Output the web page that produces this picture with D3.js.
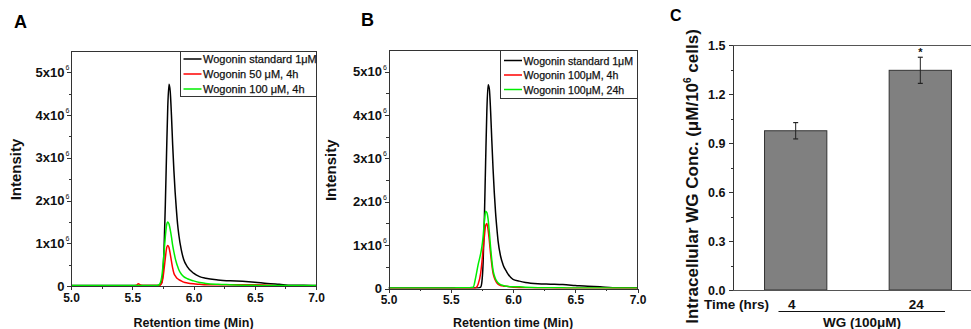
<!DOCTYPE html>
<html>
<head>
<meta charset="utf-8">
<script src="https://cdn.jsdelivr.net/npm/d3@7/dist/d3.min.js"></script>
<style>
  html, body { margin: 0; padding: 0; background: #fff; }
  svg { display: block; font-family: "Liberation Sans", Arial, sans-serif; }
  .axis path, .axis line { stroke: #333; stroke-width: 1; shape-rendering: crispEdges; }
  .axis text { font-family: "Liberation Sans", Arial, sans-serif; font-weight: bold; fill: #111; }
</style>
</head>
<body>
<svg id="chart" width="971" height="329"></svg>
<script>
// ---------------- DATA ----------------
// Retention time grid (min), shared by all chromatogram traces
const retentionTime = [5.0, 5.5, 5.53, 5.55, 5.57, 5.6, 5.65, 5.68, 5.70, 5.72, 5.74, 5.75, 5.76, 5.77, 5.78, 5.79, 5.80, 5.81, 5.82, 5.83, 5.84, 5.85, 5.86, 5.87, 5.88, 5.90, 5.92, 5.95, 6.0, 6.05, 6.1, 6.2, 6.3, 6.4, 6.5, 6.6, 6.7, 6.8, 6.9, 7.0];

// Panel A intensities (x10^6)
const aStandard1uM = [0.01,0.01,0.01,0.01,0.01,0.01,0.01,0.01,0.01,0.02,0.08,0.3,0.9,1.9,3.1,4.2,4.72,4.55,4.0,3.3,2.7,2.2,1.8,1.45,1.2,0.85,0.62,0.45,0.3,0.22,0.18,0.14,0.12,0.11,0.09,0.06,0.04,0.02,0.02,0.01];
const aWogonin50_4h = [0,0.005,0.01,0.05,0.02,0.01,0.01,0.01,0.01,0.01,0.06,0.18,0.4,0.65,0.88,0.95,0.9,0.75,0.58,0.42,0.3,0.24,0.2,0.17,0.15,0.12,0.09,0.07,0.05,0.04,0.03,0.03,0.03,0.03,0.03,0.02,0.005,0,0,0];
const aWogonin100_4h = [0.01,0.01,0.01,0.01,0.01,0.01,0.01,0.01,0.01,0.03,0.2,0.45,0.8,1.15,1.42,1.5,1.45,1.32,1.15,0.95,0.8,0.66,0.55,0.46,0.38,0.28,0.22,0.17,0.12,0.08,0.06,0.04,0.03,0.02,0.015,0.01,0.01,0.01,0.01,0.01];

// Panel B intensities (x10^6)
const bStandard1uM = [0.01,0.01,0.01,0.01,0.01,0.01,0.01,0.01,0.01,0.01,0.03,0.15,0.6,1.6,2.9,4.1,4.7,4.6,4.1,3.4,2.75,2.2,1.75,1.4,1.1,0.75,0.55,0.38,0.21,0.17,0.14,0.11,0.1,0.09,0.07,0.05,0.04,0.02,0.02,0.02];
const bWogonin100_4h = [0,0,0,0,0,0,0,0,0.01,0.1,0.35,0.6,0.9,1.2,1.45,1.5,1.35,1.1,0.8,0.55,0.35,0.25,0.18,0.13,0.1,0.07,0.06,0.05,0.03,0.02,0.02,0.01,0.01,0.005,0.005,0.005,0.005,0.005,0.005,0.005];
const bWogonin100_24h = [0.01,0.01,0.01,0.02,0.02,0.02,0.02,0.03,0.25,0.55,0.8,0.96,1.2,1.55,1.78,1.75,1.6,1.3,0.95,0.65,0.42,0.3,0.22,0.17,0.13,0.09,0.07,0.05,0.04,0.04,0.03,0.02,0.02,0.015,0.01,0.01,0.01,0.01,0.01,0.01];

const legendA = ["Wogonin standard 1\u03BCM", "Wogonin 50 \u03BCM, 4h", "Wogonin 100 \u03BCM, 4h"];
const legendB = ["Wogonin standard 1\u03BCM", "Wogonin 100\u03BCM, 4h", "Wogonin 100\u03BCM, 24h"];
const seriesColors = ["#000000", "#ff0000", "#00ee00"];

const xTicks = [5.0, 5.5, 6.0, 6.5, 7.0];
const xMinorTicks = [5.25, 5.75, 6.25, 6.75];
const yTicks = [0, 1, 2, 3, 4, 5];          // x10^6
const yMinorTicks = [0.5, 1.5, 2.5, 3.5, 4.5];

// Panel C
const timeCategories = ["4", "24"];
const wgConc = [0.975, 1.345];
const wgErr = [0.05, 0.08];
const wgSig = ["", "*"];
const cTicks = [0.0, 0.3, 0.6, 0.9, 1.2, 1.5];
const cMinorTicks = [0.15, 0.45, 0.75, 1.05, 1.35];

// ---------------- DRAW ----------------
const svg = d3.select("#chart");
const FONT = '"Liberation Sans", Arial, sans-serif';

function chromPanel(cfg) {
  const g = svg.append("g");
  const x = d3.scaleLinear().domain([5.0, 7.0]).range([cfg.left, cfg.right]);
  const y = d3.scaleLinear().domain([0, 5.5]).range([cfg.bottom, cfg.top]);

  const clipId = "clip" + cfg.id;
  svg.append("clipPath").attr("id", clipId).append("rect")
    .attr("x", cfg.left).attr("y", cfg.top)
    .attr("width", cfg.right - cfg.left).attr("height", cfg.bottom - cfg.top);

  const line = d3.line().x((d, i) => x(retentionTime[i])).y(d => y(d)).curve(d3.curveMonotoneX);
  cfg.series.forEach((s, k) => {
    g.append("path").datum(s)
      .attr("clip-path", `url(#${clipId})`)
      .attr("fill", "none").attr("stroke", seriesColors[k])
      .attr("stroke-width", 1.5).attr("stroke-linejoin", "round")
      .attr("d", line);
  });

  // axes
  const xAx = g.append("g").attr("class", "axis").attr("transform", `translate(0,${cfg.bottom})`)
    .call(d3.axisBottom(x).tickValues(xTicks).tickSize(4).tickSizeOuter(0).tickPadding(3).tickFormat(d3.format(".1f")));
  xAx.selectAll("text").style("font-size", "12px");
  g.append("g").attr("class", "axis").attr("transform", `translate(0,${cfg.bottom})`)
    .call(d3.axisBottom(x).tickValues(xMinorTicks).tickSize(2.5).tickSizeOuter(0).tickFormat(""));

  g.append("g").attr("class", "axis").attr("transform", `translate(${cfg.left},0)`)
    .call(d3.axisLeft(y).tickValues(yTicks).tickSize(4).tickSizeOuter(0).tickPadding(2).tickFormat(""));
  g.append("g").attr("class", "axis").attr("transform", `translate(${cfg.left},0)`)
    .call(d3.axisLeft(y).tickValues(yMinorTicks).tickSize(2.5).tickSizeOuter(0).tickFormat(""));
  // custom tick labels: N x 10^6
  yTicks.forEach(v => {
    const ty = y(v);
    g.append("text").attr("x", cfg.left - 6.5).attr("y", ty + 4.5)
      .attr("text-anchor", "end").attr("font-family", FONT).attr("font-weight", "bold")
      .attr("font-size", "13px").attr("fill", "#111")
      .text(v === 0 ? "0" : v + "x10");
    if (v !== 0) {
      g.append("text").attr("x", cfg.left - 5.5).attr("y", ty - 2)
        .attr("font-family", FONT).attr("font-size", "7px").attr("fill", "#111")
        .text("6");
    }
  });
  // frame top/right
  g.append("line").attr("x1", cfg.left).attr("x2", cfg.right).attr("y1", cfg.top).attr("y2", cfg.top)
    .attr("stroke", "#333").attr("shape-rendering", "crispEdges");
  g.append("line").attr("x1", cfg.right).attr("x2", cfg.right).attr("y1", cfg.top).attr("y2", cfg.bottom)
    .attr("stroke", "#333").attr("shape-rendering", "crispEdges");

  // legend
  const lg = g.append("g");
  lg.append("rect").attr("x", cfg.legX).attr("y", cfg.top).attr("width", cfg.right - cfg.legX)
    .attr("height", cfg.legH).attr("fill", "#fff").attr("stroke", "#333").attr("shape-rendering", "crispEdges");
  cfg.legend.forEach((lab, k) => {
    const cy = cfg.top + cfg.legRow0 + k * cfg.legStep;
    lg.append("line").attr("x1", cfg.legX + 3.5).attr("x2", cfg.legX + 21.5).attr("y1", cy).attr("y2", cy)
      .attr("stroke", seriesColors[k]).attr("stroke-width", 1.5);
    lg.append("text").attr("x", cfg.legX + 23).attr("y", cy + 4)
      .attr("font-family", FONT).attr("font-size", cfg.legFont).attr("fill", "#111")
      .attr("stroke", "#111").attr("stroke-width", 0.25)
      .text(lab);
  });

  // axis titles
  g.append("text").attr("transform", `translate(${cfg.ytX},${(cfg.top + cfg.bottom) / 2 + 1}) rotate(-90)`)
    .attr("text-anchor", "middle").attr("font-family", FONT).attr("font-weight", "bold")
    .attr("font-size", "15px").attr("fill", "#111").text("Intensity");
  g.append("text").attr("x", (cfg.left + cfg.right) / 2).attr("y", 327)
    .attr("text-anchor", "middle").attr("font-family", FONT).attr("font-weight", "bold")
    .attr("font-size", "12.5px").attr("fill", "#111").text("Retention time (Min)");
  g.append("text").attr("x", cfg.letterX).attr("y", cfg.letterY)
    .attr("font-family", FONT).attr("font-weight", "bold").attr("font-size", "18px")
    .attr("fill", "#000").text(cfg.letter);
}

chromPanel({
  id: "A", left: 71, right: 316, top: 51, bottom: 286,
  series: [aStandard1uM, aWogonin50_4h, aWogonin100_4h], legend: legendA,
  legX: 180, legH: 45, legRow0: 8, legStep: 15, legFont: "11px",
  ytX: 21, letter: "A", letterX: 14, letterY: 28
});
chromPanel({
  id: "B", left: 388.5, right: 637.5, top: 50, bottom: 288.5,
  series: [bStandard1uM, bWogonin100_4h, bWogonin100_24h], legend: legendB,
  legX: 500.5, legH: 48, legRow0: 10.5, legStep: 14.5, legFont: "10.6px",
  ytX: 336, letter: "B", letterX: 361, letterY: 26
});

// ---------------- Panel C ----------------
(function () {
  const g = svg.append("g");
  const left = 732.5, top = 45, bottom = 290;
  const y = d3.scaleLinear().domain([0, 1.5]).range([bottom, top]);
  const x = d3.scaleBand().domain(timeCategories).range([left, 983.5]).paddingInner(0.5).paddingOuter(0.257);

  // bars
  g.selectAll("rect.bar").data(wgConc).enter().append("rect")
    .attr("x", (d, i) => x(timeCategories[i])).attr("width", x.bandwidth())
    .attr("y", d => y(d)).attr("height", d => bottom - y(d))
    .attr("fill", "#808080").attr("stroke", "#333").attr("stroke-width", 1);
  // error bars
  wgConc.forEach((d, i) => {
    const cx = x(timeCategories[i]) + x.bandwidth() / 2;
    g.append("line").attr("x1", cx).attr("x2", cx).attr("y1", y(d + wgErr[i])).attr("y2", y(d - wgErr[i]))
      .attr("stroke", "#222").attr("stroke-width", 1);
    [d + wgErr[i], d - wgErr[i]].forEach(v => {
      g.append("line").attr("x1", cx - 2.5).attr("x2", cx + 2.5).attr("y1", y(v)).attr("y2", y(v))
        .attr("stroke", "#222").attr("stroke-width", 1.2);
    });
    if (wgSig[i]) {
      g.append("text").attr("x", cx).attr("y", y(d + wgErr[i]) - 1).attr("text-anchor", "middle")
        .attr("font-family", FONT).attr("font-weight", "bold").attr("font-size", "11px")
        .attr("fill", "#111").text(wgSig[i]);
    }
  });

  // axes
  const yAx = g.append("g").attr("class", "axis").attr("transform", `translate(${left},0)`)
    .call(d3.axisLeft(y).tickValues(cTicks).tickSize(4).tickSizeOuter(0).tickPadding(3).tickFormat(d3.format(".1f")));
  yAx.selectAll("text").style("font-size", "12.5px").attr("dy", "0.34em");
  yAx.select(".domain").attr("stroke", "#555");
  g.append("g").attr("class", "axis").attr("transform", `translate(${left},0)`)
    .call(d3.axisLeft(y).tickValues(cMinorTicks).tickSize(2).tickSizeOuter(0).tickFormat(""));
  g.append("line").attr("x1", left).attr("x2", 971).attr("y1", top).attr("y2", top)
    .attr("stroke", "#555").attr("shape-rendering", "crispEdges");
  g.append("line").attr("x1", left).attr("x2", 971).attr("y1", bottom).attr("y2", bottom)
    .attr("stroke", "#555").attr("shape-rendering", "crispEdges");

  // category labels
  g.append("text").attr("x", 704).attr("y", 309).attr("font-family", FONT).attr("font-weight", "bold")
    .attr("font-size", "13.5px").attr("fill", "#111").text("Time (hrs)");
  timeCategories.forEach(c => {
    g.append("text").attr("x", x(c) + x.bandwidth() / 2 - 4).attr("y", 309).attr("text-anchor", "middle")
      .attr("font-family", FONT).attr("font-weight", "bold").attr("font-size", "13.5px")
      .attr("fill", "#111").text(c);
  });
  g.append("line").attr("x1", 778.5).attr("x2", 945).attr("y1", 311.5).attr("y2", 311.5)
    .attr("stroke", "#111").attr("stroke-width", 1.2);
  g.append("text").attr("x", 862).attr("y", 326.5).attr("text-anchor", "middle")
    .attr("font-family", FONT).attr("font-weight", "bold").attr("font-size", "13.5px")
    .attr("fill", "#111").text("WG (100\u03BCM)");

  // y title
  const t = g.append("text").attr("transform", `translate(698,${176.5}) rotate(-90)`)
    .attr("text-anchor", "middle").attr("font-family", FONT).attr("font-weight", "bold")
    .attr("font-size", "17px").attr("fill", "#111");
  t.append("tspan").text("Intracellular WG Conc. (\u03BCM/10");
  t.append("tspan").attr("font-size", "10px").attr("dy", "-7").text("6");
  t.append("tspan").attr("dy", "7").text(" cells)");

  g.append("text").attr("x", 670).attr("y", 21).attr("font-family", FONT).attr("font-weight", "bold")
    .attr("font-size", "16px").attr("fill", "#000").text("C");
})();
</script>
</body>
</html>
